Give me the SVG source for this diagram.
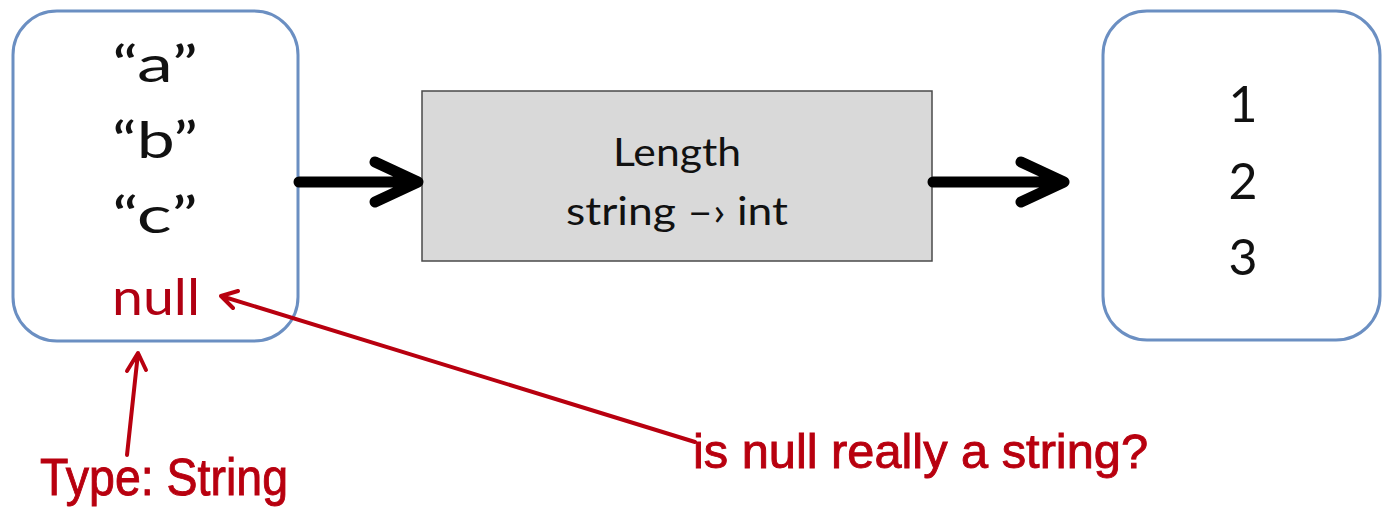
<svg xmlns="http://www.w3.org/2000/svg" width="1383" height="515" viewBox="0 0 1383 515">
<style>
.box{fill:#ffffff;stroke:#6b8fc2;stroke-width:3}
.proc{fill:#d9d9d9;stroke:#4a4a4a;stroke-width:1.5}
.t{font-family:Lato,"Open Sans","Liberation Sans",sans-serif;fill:#111;text-anchor:middle}
.big{font-size:50px}
.mid{font-size:38px}
.red{fill:#b00012}
.hand{font-family:"Liberation Sans Narrow","Liberation Sans",sans-serif;fill:#b8000f;stroke:#b8000f;stroke-width:0.9}
.blk{stroke:#000;stroke-width:11;fill:none;stroke-linecap:round;stroke-linejoin:round}
.rl{stroke:#b8000f;stroke-width:4;fill:none;stroke-linecap:round;stroke-linejoin:round}
</style>
<rect width="1383" height="515" fill="#ffffff"/>
<g id="input">
<rect class="box" x="13" y="11" width="285" height="330" rx="44"/>
<text class="t big" x="155" y="82" textLength="86" lengthAdjust="spacingAndGlyphs">“a”</text>
<text class="t big" x="155" y="158" textLength="86" lengthAdjust="spacingAndGlyphs">“b”</text>
<text class="t big" x="155" y="233" textLength="86" lengthAdjust="spacingAndGlyphs">“c”</text>
<text class="t big red" x="156" y="315" textLength="88" lengthAdjust="spacingAndGlyphs">null</text>
</g>
<g id="length">
<rect class="proc" x="422" y="91" width="510" height="170"/>
<text class="t mid" x="677" y="166" textLength="128" lengthAdjust="spacingAndGlyphs">Length</text>
<text class="t mid" x="677" y="225" textLength="222" lengthAdjust="spacingAndGlyphs">string –› int</text>
</g>
<g id="output">
<rect class="box" x="1103" y="11" width="277" height="329" rx="44"/>
<text class="t big" x="1243" y="122">1</text>
<text class="t big" x="1243" y="199">2</text>
<text class="t big" x="1243" y="275">3</text>
</g>
<g id="connectors">
<path class="blk" d="M299 182 H416 M375 162 L418 182 L375 202"/>
<path class="blk" d="M933 182 H1062 M1021 162 L1064 182 L1021 202"/>
<path class="rl" d="M695 442 L221 296 M238 291 L221 296 L233 308"/>
<path class="rl" d="M127 455 L138 353 M127 371 L138 353 L146 370"/>
</g>
<g id="notes">
<text class="hand" x="40" y="495" font-size="52" textLength="248" lengthAdjust="spacingAndGlyphs">Type: String</text>
<text class="hand" x="693" y="468" font-size="48" textLength="455" lengthAdjust="spacingAndGlyphs">is null really a string?</text>
</g>
</svg>
